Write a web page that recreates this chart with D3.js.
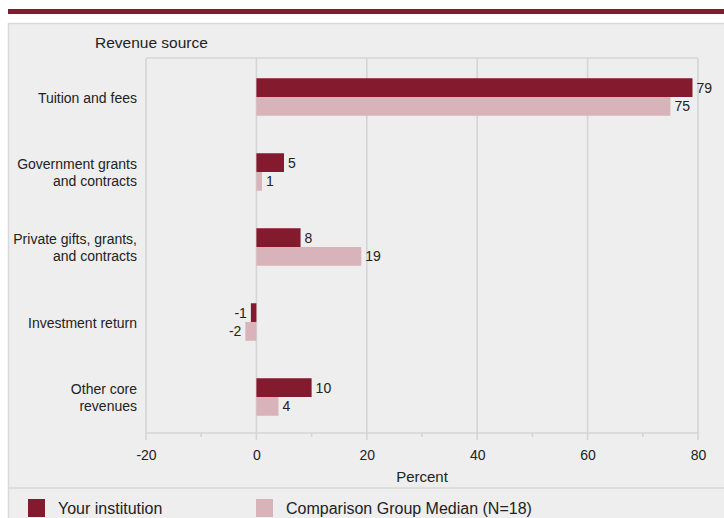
<!DOCTYPE html>
<html><head><meta charset="utf-8">
<script src="https://cdn.jsdelivr.net/npm/d3@7/dist/d3.min.js"></script>
<style>body{margin:0;background:#fff}svg{display:block;font-family:"Liberation Sans",Arial,sans-serif}</style>
</head><body>
<svg id="c" width="724" height="518"></svg>
<script>
const categories = [["Tuition and fees"],["Government grants","and contracts"],["Private gifts, grants,","and contracts"],["Investment return"],["Other core","revenues"]];
const seriesNames = ["Your institution","Comparison Group Median (N=18)"];
const yourValues = [79,5,8,-1,10];
const compValues = [75,1,19,-2,4];
const xTicks = [-20,0,20,40,60,80];
const xMinor = [-10,10,30,50,70];

const dark = "#841a2e", light = "#d8b3b9", grid = "#d5d5d5";
const svg = d3.select("#c");
svg.append("rect").attr("x",8).attr("y",9).attr("width",716).attr("height",5).attr("fill",dark);
svg.append("rect").attr("x",8.5).attr("y",23.5).attr("width",720).attr("height",500).attr("fill","#eeeeee").attr("stroke","#d9d9d9").attr("stroke-width",1.5);

const L=146,R=698,T=58,B=433;
const x = d3.scaleLinear().domain([-20,80]).range([L,R]);
const y = d3.scaleBand().domain(d3.range(categories.length)).range([59.5,434.5]).paddingInner(0.5).paddingOuter(0.25);
const sub = d3.scaleBand().domain([0,1]).range([0,y.bandwidth()]);

// grid
const g = svg.append("g");
g.selectAll(".gl").data(xTicks).join("line").attr("x1",d=>x(d)).attr("x2",d=>x(d)).attr("y1",T).attr("y2",B+7).attr("stroke",grid).attr("stroke-width",1.6);
g.selectAll(".mn").data(xMinor).join("line").attr("x1",d=>x(d)).attr("x2",d=>x(d)).attr("y1",B).attr("y2",B+4).attr("stroke",grid).attr("stroke-width",1.6);
g.append("line").attr("x1",L).attr("x2",R).attr("y1",T).attr("y2",T).attr("stroke",grid).attr("stroke-width",1.6);
g.append("line").attr("x1",L).attr("x2",R).attr("y1",B).attr("y2",B).attr("stroke",grid).attr("stroke-width",1.6);

// axis labels
const ax = d3.axisBottom(x).tickValues(xTicks).tickFormat(d=>String(d)).tickSize(0).tickPadding(0);
const axg = svg.append("g").attr("transform",`translate(0,${B+27})`).call(ax);
axg.select(".domain").remove();
axg.selectAll("text").attr("font-size",14).attr("fill","#222").attr("dy",0);
svg.append("text").attr("x",(L+R)/2).attr("y",482).attr("text-anchor","middle").attr("font-size",15).attr("fill","#222").text("Percent");
svg.append("text").attr("x",95).attr("y",48).attr("font-size",15.5).attr("fill","#222").text("Revenue source");

// category labels
categories.forEach((lines,i)=>{
  const cy = y(i)+y.bandwidth()/2;
  const lh = 17;
  const t = svg.append("text").attr("text-anchor","end").attr("font-size",14).attr("fill","#222");
  lines.forEach((s,j)=>{
    t.append("tspan").attr("x",137).attr("y",cy + (j-(lines.length-1)/2)*lh + 5.5).text(s);
  });
});

// bars
const series = [yourValues, compValues];
const colors = [dark, light];
series.forEach((vals,si)=>{
  svg.append("g").selectAll("rect").data(vals).join("rect")
    .attr("x",d=>x(Math.min(0,d))).attr("width",d=>Math.abs(x(d)-x(0)))
    .attr("y",(d,i)=>y(i)+sub(si)).attr("height",sub.bandwidth())
    .attr("fill",colors[si]);
  svg.append("g").selectAll("text").data(vals).join("text")
    .attr("x",d=> d>=0 ? x(d)+4 : x(d)-4)
    .attr("text-anchor",d=> d>=0 ? "start":"end")
    .attr("y",(d,i)=>y(i)+sub(si)+sub.bandwidth()/2+5)
    .attr("font-size",14).attr("fill","#222").text(d=>d);
});

// legend
svg.append("line").attr("x1",8).attr("x2",724).attr("y1",488).attr("y2",488).attr("stroke","#d9d9d9").attr("stroke-width",1.5);
const lx=[28,256];
seriesNames.forEach((n,i)=>{
  svg.append("rect").attr("x",lx[i]).attr("y",499).attr("width",17).attr("height",18).attr("fill",colors[i]);
  svg.append("text").attr("x",lx[i]+30).attr("y",514).attr("font-size",16).attr("fill","#222").text(n);
});
</script>
</body></html>
